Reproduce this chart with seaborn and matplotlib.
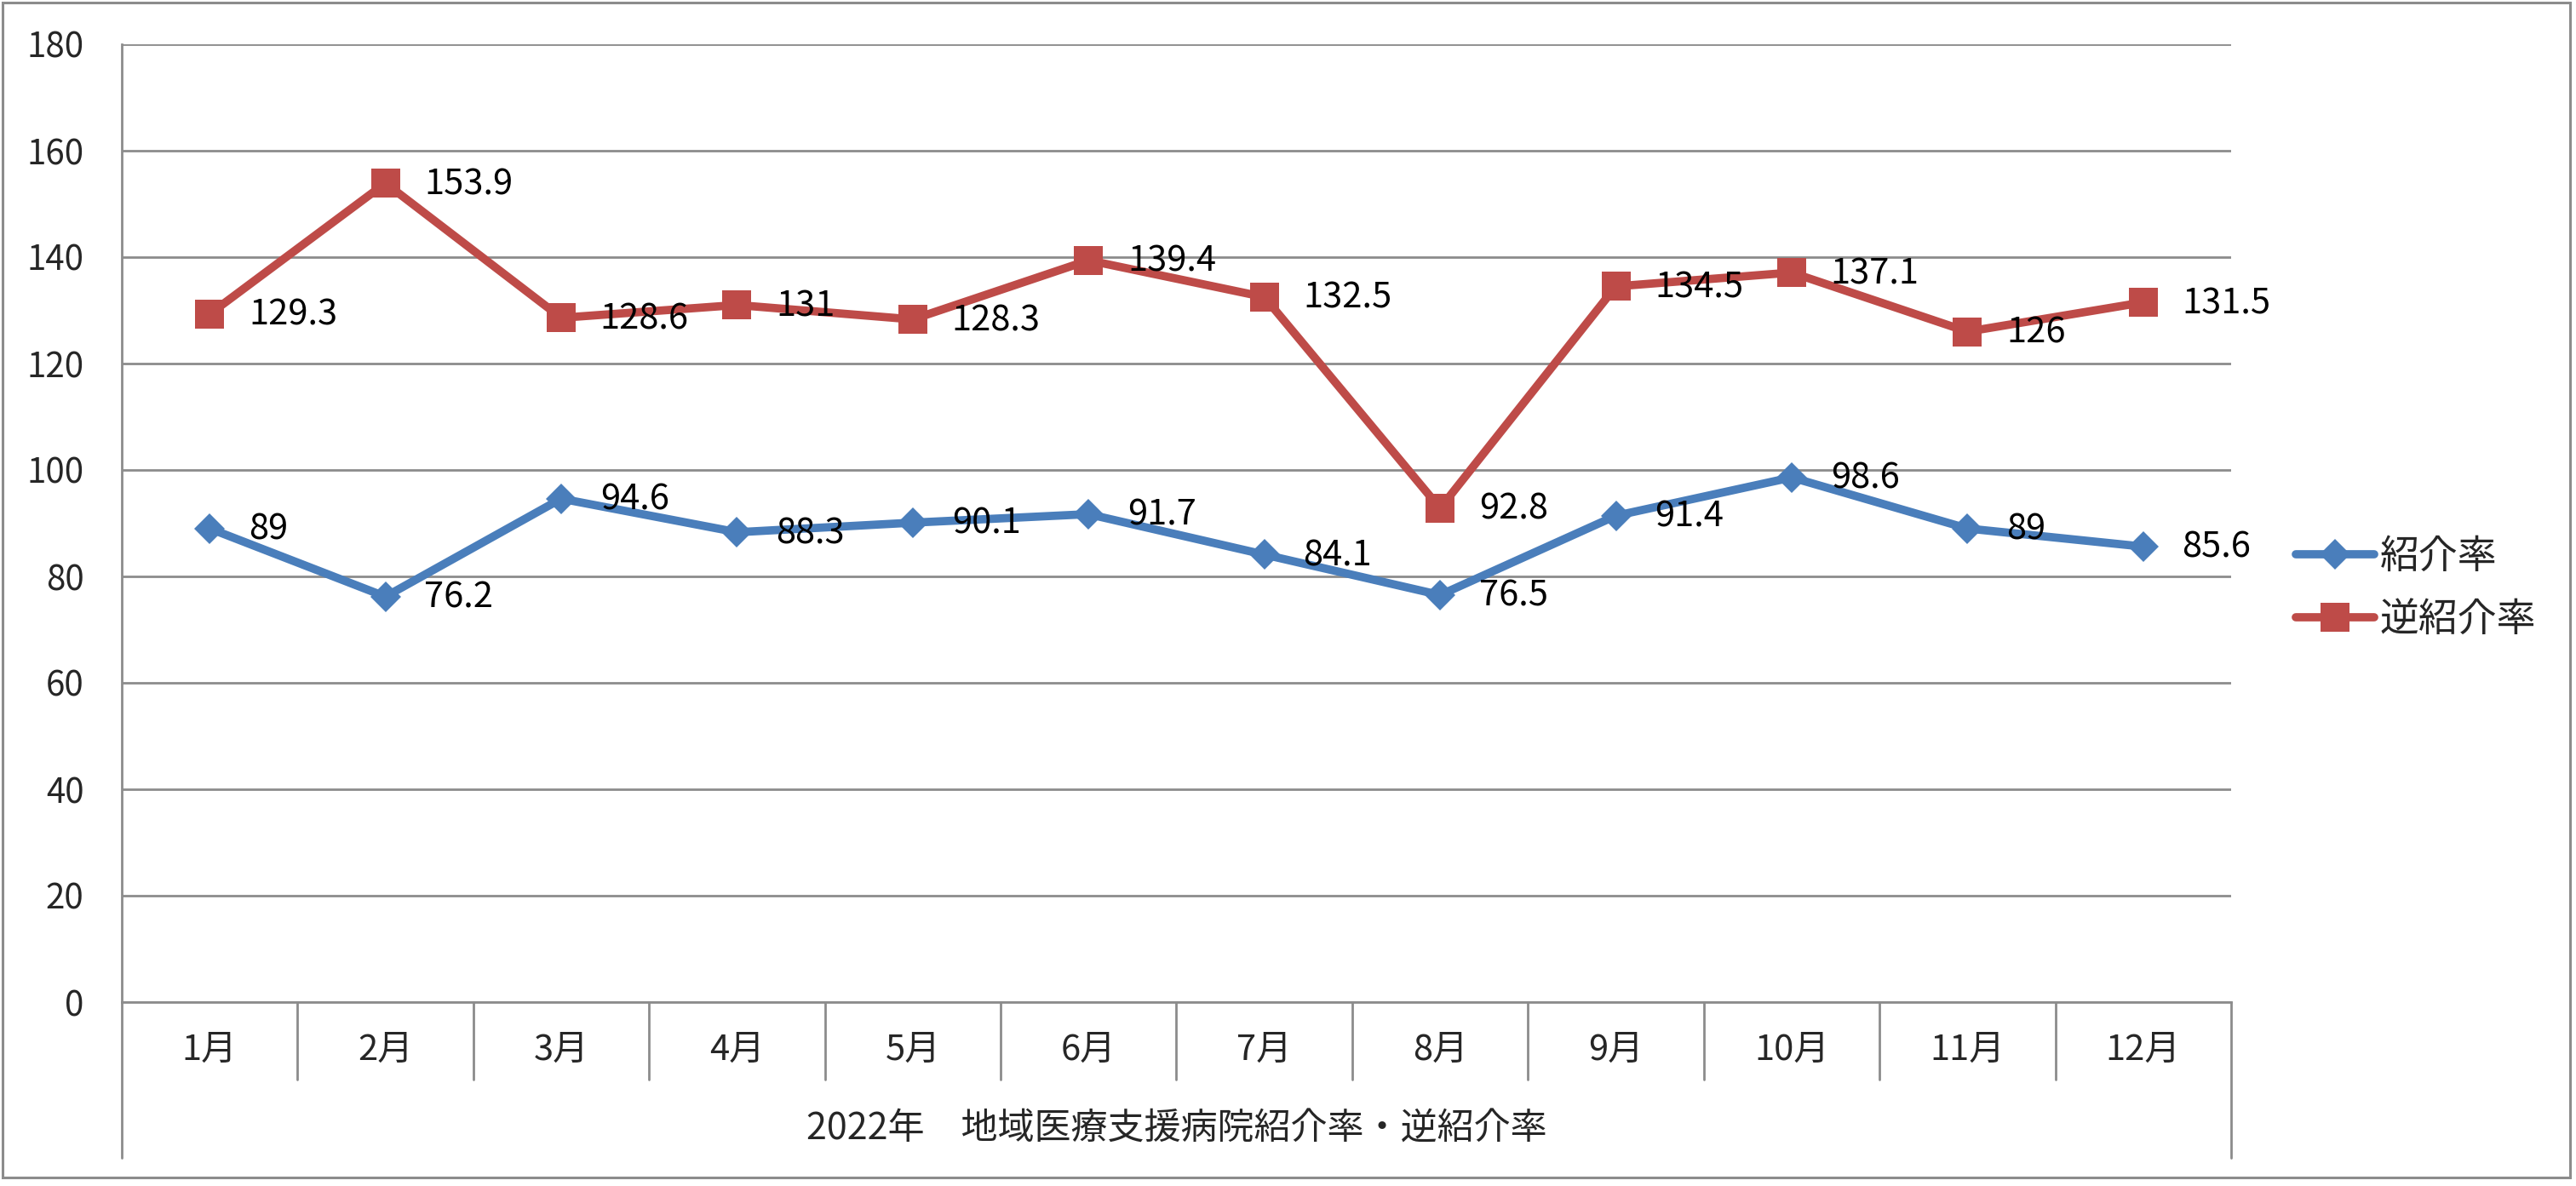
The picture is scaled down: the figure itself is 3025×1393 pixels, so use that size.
import matplotlib
matplotlib.use("Agg")
import matplotlib.pyplot as plt
from matplotlib.patches import Rectangle
import seaborn as sns
import pandas as pd

months = ["1月", "2月", "3月", "4月", "5月", "6月", "7月", "8月", "9月", "10月", "11月", "12月"]
shoukai = [89, 76.2, 94.6, 88.3, 90.1, 91.7, 84.1, 76.5, 91.4, 98.6, 89, 85.6]
gyaku = [129.3, 153.9, 128.6, 131, 128.3, 139.4, 132.5, 92.8, 134.5, 137.1, 126, 131.5]
title = "2022年　地域医療支援病院紹介率・逆紹介率"

sns.set_style("white")
plt.rcParams['font.family'] = ['Noto Sans CJK JP', 'DejaVu Sans']

grey = "#8C8C8C"
blue = "#4A7EBB"
red = "#BE4B48"

df = pd.DataFrame({"month": months, "紹介率": shoukai, "逆紹介率": gyaku})

fig = plt.figure(figsize=(30.25, 13.93), dpi=100)
ax = fig.add_axes([143/3025, 1-1177/1393, (2620-143)/3025, (1177-52)/1393])

sns.lineplot(data=df, x="month", y="紹介率", ax=ax, sort=False, color=blue,
             lw=7, marker="D", markersize=18, markeredgewidth=0, label="紹介率")
sns.lineplot(data=df, x="month", y="逆紹介率", ax=ax, sort=False, color=red,
             lw=7, marker="s", markersize=24, markeredgewidth=0, label="逆紹介率")

# data labels to the right of each point
for col in ["紹介率", "逆紹介率"]:
    for i, v in enumerate(df[col]):
        ax.annotate(f"{v:g}", (i, v), xytext=(33, -1), textcoords="offset points",
                    ha="left", va="center", fontsize=30, color="black")

ax.set_xlim(-0.5, 11.5)
ax.set_ylim(0, 180)
ax.set_yticks(range(0, 181, 20))
ax.yaxis.grid(True, color=grey, lw=2)
ax.set_axisbelow(True)

for s in ["top", "right"]:
    ax.spines[s].set_visible(False)
for s in ["left", "bottom"]:
    ax.spines[s].set_color(grey)
    ax.spines[s].set_linewidth(2)

ax.tick_params(axis="y", direction="out", length=9, width=2, color=grey,
               labelsize=29, pad=23)
ax.tick_params(axis="x", length=0, labelsize=30, pad=26)
ax.set_ylabel("")
ax.set_xlabel(title, fontsize=31, labelpad=36)

# category separators below the axis
tr = ax.get_xaxis_transform()
for b in range(1, 12):
    ax.plot([b - 0.5, b - 0.5], [0, -0.081], transform=tr, color=grey, lw=2, clip_on=False)
for b in [-0.5, 11.5]:
    ax.plot([b, b], [0, -0.163], transform=tr, color=grey, lw=2, clip_on=False)

leg = ax.legend(loc="center left", bbox_to_anchor=(2678/3025, 1-691/1393),
                bbox_transform=fig.transFigure, frameon=False, fontsize=33,
                handlelength=2.0, handletextpad=0.15, labelspacing=0.55, borderaxespad=0)

fig.patches.append(Rectangle((3/3025, 1-1383/1393), (3018-3)/3025, (1383-3)/1393,
                             transform=fig.transFigure, fill=False, edgecolor=grey, lw=2.2))

fig.savefig("out.png", dpi=100)
